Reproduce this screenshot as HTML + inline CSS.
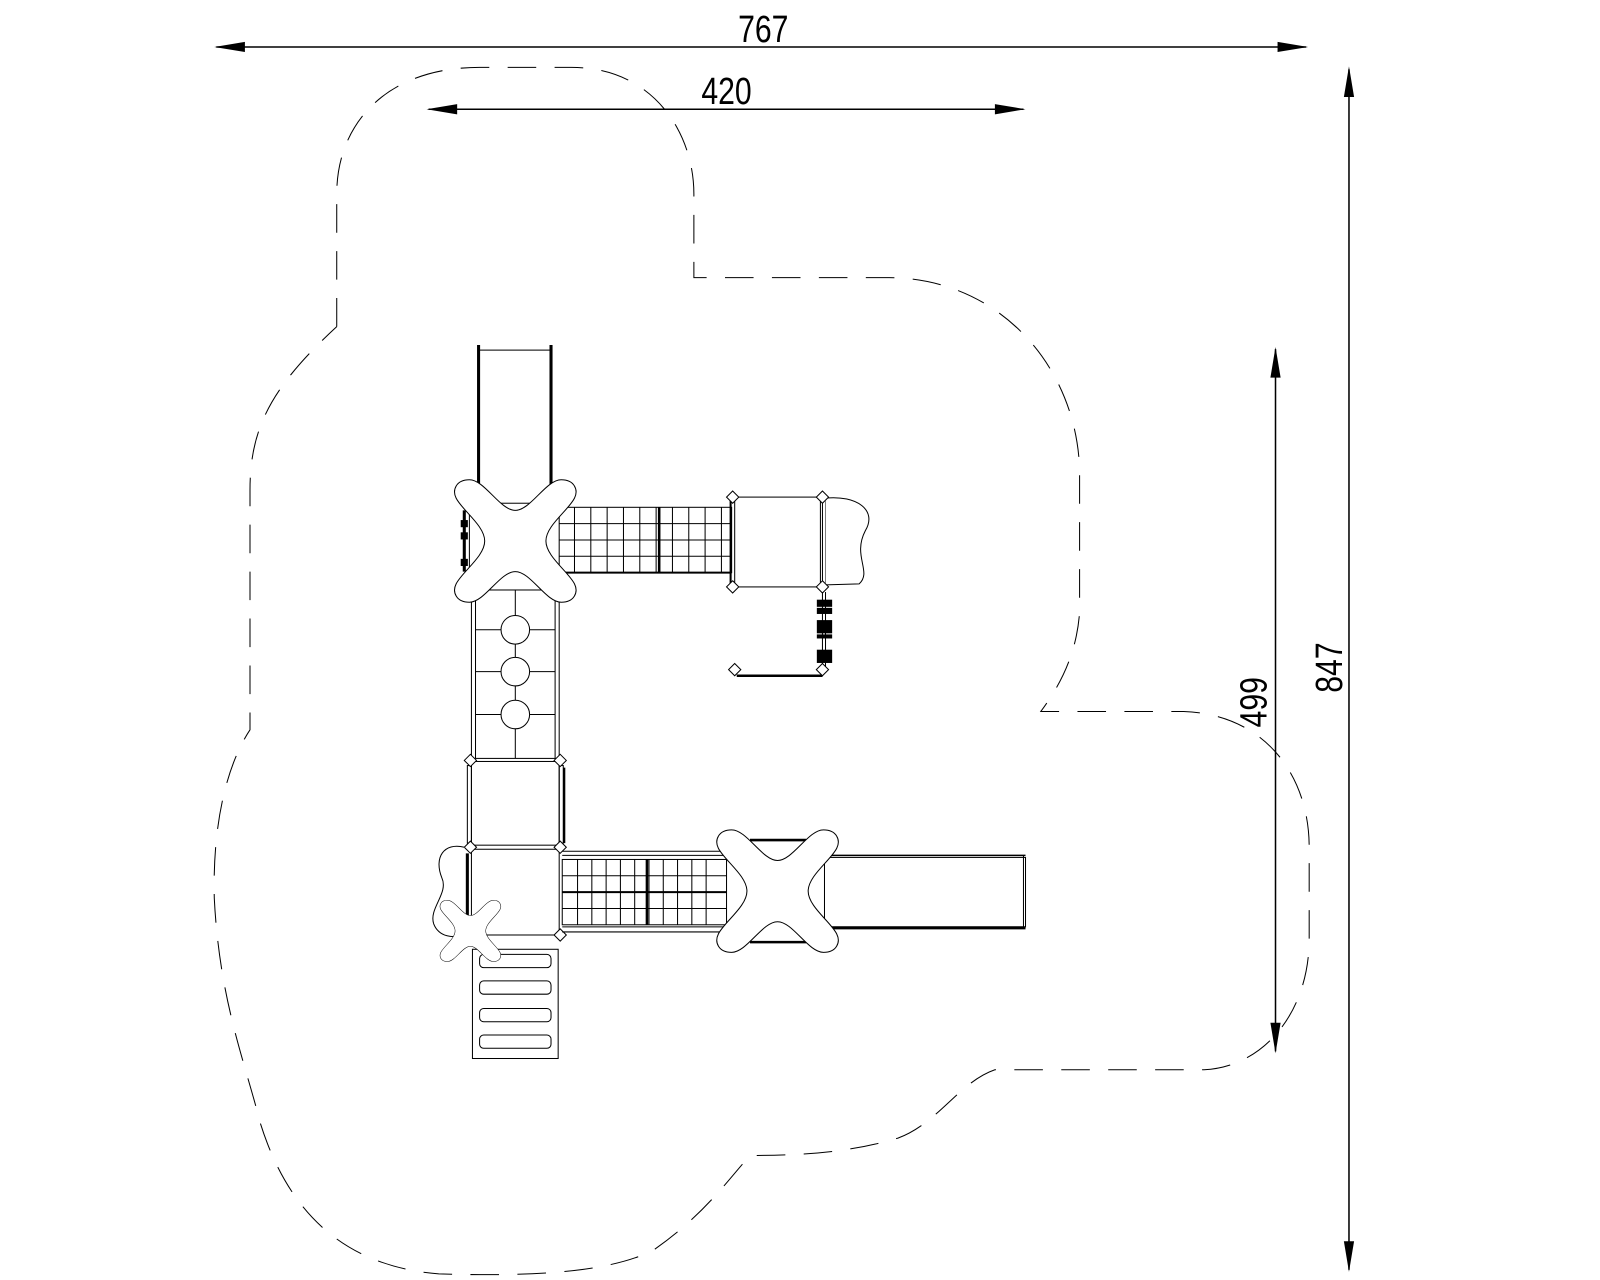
<!DOCTYPE html>
<html><head><meta charset="utf-8"><style>
html,body{margin:0;padding:0;background:#fff;width:1600px;height:1280px;overflow:hidden}
svg{display:block}
text{font-family:"Liberation Sans",sans-serif;fill:#000}
</style></head><body>
<svg width="1600" height="1280" viewBox="0 0 1568 1254" preserveAspectRatio="none" xmlns="http://www.w3.org/2000/svg">
<defs>
<path id="x" d="M0,-30 C15,-30 30,-60 45,-60 C58,-60 62,-50 58,-42 C52,-30 30,-15 30,0 C30,15 52,30 58,42 C62,50 58,60 45,60 C30,60 15,30 0,30 C-15,30 -30,60 -45,60 C-58,60 -62,50 -58,42 C-52,30 -30,15 -30,0 C-30,-15 -52,-30 -58,-42 C-62,-50 -58,-60 -45,-60 C-30,-60 -15,-30 0,-30 Z" fill="#fff" stroke="#000" stroke-width="1"/>
<path id="d" d="M0,-6 L6,0 L0,6 L-6,0 Z" fill="#fff" stroke="#000" stroke-width="1"/>
</defs>
<g fill="none" stroke="#000">
<path stroke-width="1" stroke-dasharray="28,18" d="M330,320 L330,190 C330,120 380,66 470,66 L560,66 C640,66 680,130 680,190 L680,272 L870,272 C980,272 1055,360 1058,460 L1058,600 C1055,640 1040,670 1020,697 L1160,697 C1240,700 1283,760 1283,830 L1283,920 C1283,990 1240,1045 1180,1048 L975,1048 C940,1060 920,1100 880,1115 C830,1130 780,1132 735,1132 C710,1160 690,1190 640,1225 C590,1250 500,1250 430,1248 C330,1240 280,1180 255,1100 C240,1040 215,980 210,880 C208,800 225,745 245,715 L245,480 C245,420 265,380 330,320"/>
<line x1="212" y1="46" x2="1280" y2="46" stroke-width="1.5"/>
<line x1="420" y1="107" x2="1003" y2="107" stroke-width="1.5"/>
<line x1="1322" y1="68" x2="1322" y2="1244" stroke-width="1.5"/>
<line x1="1250" y1="342" x2="1250" y2="1030" stroke-width="1.5"/>
</g>
<g fill="#000">
<path d="M210,46 L240,41 L240,51 Z"/><path d="M1282,46 L1252,41 L1252,51 Z"/>
<path d="M418,107 L448,102 L448,112 Z"/><path d="M1005,107 L975,102 L975,112 Z"/>
<path d="M1322,65 L1317,95 L1327,95 Z"/><path d="M1322,1246 L1317,1216 L1327,1216 Z"/>
<path d="M1250,340 L1245,370 L1255,370 Z"/><path d="M1250,1032 L1245,1002 L1255,1002 Z"/>
</g>
<text x="0" y="0" font-size="37" transform="translate(748,41) scale(0.8,1)" text-anchor="middle">767</text>
<text x="0" y="0" font-size="37" transform="translate(712,102) scale(0.8,1)" text-anchor="middle">420</text>
<text x="0" y="0" font-size="37" transform="translate(1315,654) rotate(-90) scale(0.8,1)" text-anchor="middle">847</text>
<text x="0" y="0" font-size="37" transform="translate(1241,688) rotate(-90) scale(0.8,1)" text-anchor="middle">499</text>

<g fill="none" stroke="#000" stroke-width="1">
<rect x="469" y="343" width="71" height="150" fill="#fff"/>
<line x1="469" y1="338" x2="469" y2="493" stroke-width="3"/>
<line x1="540" y1="338" x2="540" y2="493" stroke-width="3"/>
<line x1="455" y1="500" x2="455" y2="560" stroke-width="3"/>
<line x1="460" y1="500" x2="460" y2="560"/>
<rect x="452" y="510" width="6" height="6" fill="#000"/><rect x="452" y="522" width="6" height="6" fill="#000"/><rect x="452" y="548" width="6" height="6" fill="#000"/>
<rect x="548" y="497" width="169" height="64" fill="#fff"/>
<path d="M563,497V561M579,497V561M595,497V561M611,497V561M627,497V561M643,497V561M659,497V561M675,497V561M691,497V561M707,497V561"/>
<path d="M548,513H717M548,529H717M548,545H717"/>
<line x1="646" y1="497" x2="646" y2="561" stroke-width="2.5"/>
<line x1="548" y1="561" x2="717" y2="561" stroke-width="2"/>
<rect x="720" y="487" width="86" height="88" fill="#fff"/>
<line x1="716" y1="490" x2="716" y2="572" stroke-width="2"/>
<rect x="804" y="490" width="5" height="82"/>
<path d="M809,488 C840,485 860,500 848,520 C835,545 855,560 842,572 L809,573" fill="#fff"/>
<use href="#d" x="718" y="487"/><use href="#d" x="806" y="487"/><use href="#d" x="718" y="575"/><use href="#d" x="806" y="575"/>
<line x1="806" y1="580" x2="806" y2="655"/><line x1="809" y1="580" x2="809" y2="655"/>
<rect x="801" y="588" width="14" height="6" fill="#000"/><rect x="801" y="596" width="14" height="5" fill="#000"/>
<rect x="801" y="608" width="14" height="12" fill="#000"/><rect x="801" y="622" width="14" height="3" fill="#000"/>
<rect x="801" y="637" width="14" height="12" fill="#000"/>
<line x1="722" y1="662" x2="806" y2="662" stroke-width="2.5"/>
<use href="#d" x="720" y="656"/><use href="#d" x="806" y="656"/>
<rect x="462" y="578" width="86" height="165" fill="#fff"/>
<line x1="466" y1="578" x2="466" y2="743"/><line x1="544" y1="578" x2="544" y2="743"/>
<line x1="505" y1="578" x2="505" y2="743"/>
<path d="M466,617H544M466,658H544M466,700H544"/>
<circle cx="505" cy="617" r="14" fill="#fff"/><circle cx="505" cy="658" r="14" fill="#fff"/><circle cx="505" cy="700" r="14" fill="#fff"/>
<rect x="462" y="746" width="86" height="82" fill="#fff"/>
<rect x="458" y="750" width="4" height="76"/><rect x="548" y="750" width="4" height="76"/>
<line x1="553" y1="752" x2="553" y2="826" stroke-width="2"/>
<rect x="462" y="832" width="86" height="84" fill="#fff"/>
<line x1="458" y1="836" x2="458" y2="912" stroke-width="3"/>
<use href="#d" x="461" y="745"/><use href="#d" x="549" y="745"/><use href="#d" x="461" y="830"/><use href="#d" x="549" y="830"/><use href="#d" x="549" y="916"/>
<rect x="551" y="842" width="161" height="64" fill="#fff"/>
<path d="M551,834H712M551,838H712M551,908H712M551,913H712"/>
<path d="M566,842V906M580,842V906M594,842V906M608,842V906M622,842V906M636,842V906M650,842V906M664,842V906M678,842V906M692,842V906"/>
<path d="M551,858H712M551,874H712M551,890H712"/>
<line x1="634" y1="842" x2="634" y2="906" stroke-width="2.5"/>
<line x1="551" y1="874" x2="712" y2="874" stroke-width="2"/>
<line x1="735" y1="823" x2="790" y2="823" stroke-width="2.5"/>
<line x1="735" y1="923" x2="790" y2="923" stroke-width="2.5"/>
<rect x="808" y="840" width="197" height="68" fill="#fff"/>
<line x1="808" y1="838" x2="1005" y2="838" stroke-width="1.5"/>
<line x1="808" y1="909" x2="1005" y2="909" stroke-width="3"/>
<line x1="1003" y1="838" x2="1003" y2="909"/>
<rect x="463" y="930" width="84" height="107" fill="#fff"/>
<rect x="470" y="935" width="70" height="13" rx="4"/>
<rect x="470" y="961" width="70" height="13" rx="4"/>
<rect x="470" y="988" width="70" height="13" rx="4"/>
<rect x="470" y="1014" width="70" height="13" rx="4"/>
<path d="M455,830 C435,825 425,840 433,860 C440,875 420,890 425,905 C430,918 445,920 455,915" fill="#fff"/>
</g>
<use href="#x" transform="translate(505,530)"/>
<use href="#x" transform="translate(762,873)"/>
<use href="#x" transform="translate(461,912) scale(0.5)"/>
</svg>
</body></html>
